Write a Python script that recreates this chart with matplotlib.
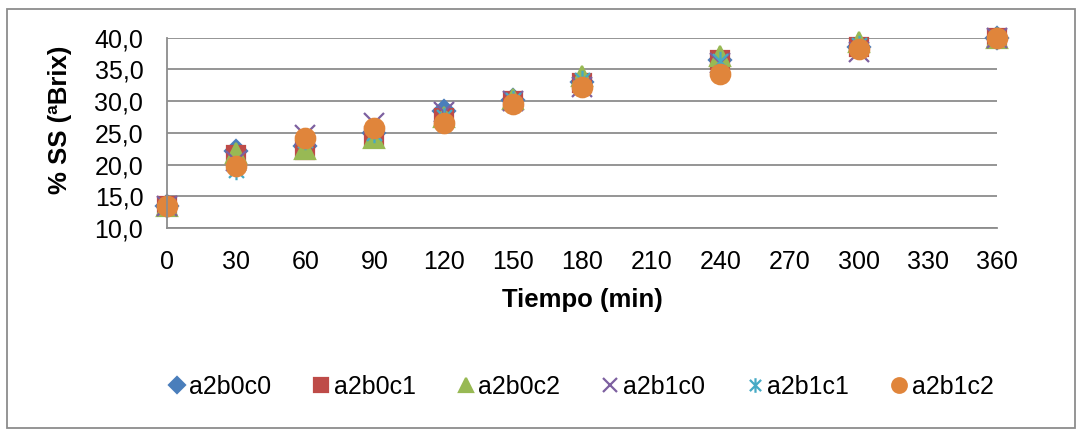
import matplotlib.pyplot as plt
from matplotlib.path import Path

plt.rcParams["font.family"] = ["Liberation Sans", "DejaVu Sans"]

# tiempo de secado y sólidos solubles por tratamiento
tiempo = [0, 30, 60, 90, 120, 150, 180, 240, 300, 360]
a2b0c0 = [13.5, 22.1, 23.0, 25.0, 28.4, 30.2, 33.0, 36.5, 38.5, 40.0]
a2b0c1 = [13.5, 21.5, 22.3, 24.5, 27.3, 30.0, 32.9, 36.5, 38.5, 40.0]
a2b0c2 = [13.5, 21.9, 22.5, 24.2, 27.5, 30.4, 33.9, 37.2, 39.3, 40.0]
a2b1c0 = [13.5, 20.5, 24.7, 26.6, 28.3, 30.0, 32.2, 36.0, 37.8, 40.0]
a2b1c1 = [13.5, 19.2, 23.8, 25.0, 27.5, 30.2, 33.4, 36.4, 38.8, 40.0]
a2b1c2 = [13.5, 19.7, 24.2, 25.7, 26.6, 29.6, 32.2, 34.3, 38.2, 40.0]

nombres = ["a2b0c0", "a2b0c1", "a2b0c2", "a2b1c0", "a2b1c1", "a2b1c2"]
series = [a2b0c0, a2b0c1, a2b0c2, a2b1c0, a2b1c1, a2b1c2]
colores = ["#4A7EBB", "#BE4B48", "#98B954", "#7D60A0", "#46AAC5", "#E0853B"]

# marcador tipo estrella de Excel: una X con una línea vertical
estrella = Path([(-1, -1), (1, 1), (-1, 1), (1, -1), (0, -1.3), (0, 1.3)],
                [Path.MOVETO, Path.LINETO, Path.MOVETO, Path.LINETO,
                 Path.MOVETO, Path.LINETO])
marcadores = ["D", "s", "^", "x", estrella, "o"]
tamanos = [11, 13, 14, 14, 14, 14]

fig = plt.figure(figsize=(10.77, 4.29), dpi=100)
ax = fig.add_axes([0.155, 0.4685, 0.7707, 0.4435])

for y, nom, c, m, s in zip(series, nombres, colores, marcadores, tamanos):
    ax.plot(tiempo, y, linestyle="none", marker=m, markersize=s,
            color=c, markeredgecolor=c, markeredgewidth=1.6, label=nom,
            clip_on=False)

ax.set_xlim(0, 360)
ax.set_ylim(10, 40)
ax.set_xticks(range(0, 361, 30))
ax.set_yticks(range(10, 41, 5))
ax.set_yticklabels([f"{v:.1f}".replace(".", ",") for v in range(10, 41, 5)])
ax.tick_params(length=0, labelsize=18, pad=16)
ax.tick_params(axis="y", pad=17)
ax.grid(axis="y", color="#8C8C8C", linewidth=1.3)
ax.set_axisbelow(True)
for lado in ["top", "right"]:
    ax.spines[lado].set_visible(False)
for lado in ["left", "bottom"]:
    ax.spines[lado].set_color("#8C8C8C")
    ax.spines[lado].set_linewidth(1.3)

fig.text(0.5404, 1 - 300 / 429, "Tiempo (min)", ha="center", va="center",
         fontsize=18.5, fontweight="bold")
fig.text(60 / 1077, 1 - 120 / 429, "% SS (ªBrix)", ha="center", va="center",
         rotation=90, fontsize=18.5, fontweight="bold")

fig.legend(loc="center", bbox_to_anchor=(582 / 1077, 1 - 387 / 429), ncol=6,
           frameon=False, fontsize=18, handlelength=0.5, handletextpad=0.25,
           columnspacing=1.75, markerscale=0.75)

# borde del área del gráfico
fig.patches.append(plt.Rectangle((7 / 1077, 0.002), 1 - 9 / 1077, 1 - 10 / 429,
                                 transform=fig.transFigure, fill=False,
                                 edgecolor="#8C8C8C", linewidth=1.3))

fig.savefig("out.png", dpi=100)
